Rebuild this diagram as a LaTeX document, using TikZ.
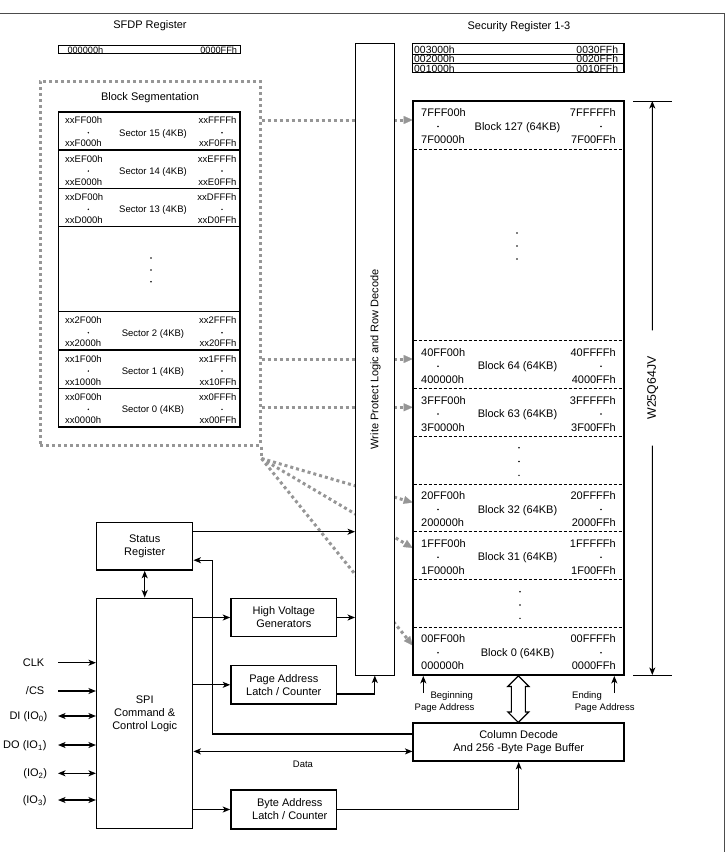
\documentclass[tikz,border=0pt]{standalone}
\usepackage{fontspec}
\setmainfont{Liberation Sans}
\usetikzlibrary{arrows.meta,positioning,calc}

\definecolor{segGray}{RGB}{150,150,150}

\tikzset{
  blk/.style={draw,line width=1.5pt,fill=white,align=center,inner sep=0pt,
    font=\fontsize{11}{13}\selectfont},
  tbl/.style={draw,line width=1.8pt,inner sep=0pt},
  txt/.style={inner sep=0pt,text height=0.72em,text depth=0pt,
    font=\fontsize{11}{13}\selectfont},
  sml/.style={txt,font=\fontsize{9.5}{11}\selectfont},
  adr/.style={txt,font=\fontsize{9.5}{11}\selectfont},
  adrs/.style={txt,font=\fontsize{10.4}{11}\selectfont},
  con/.style={line width=1.1pt,->},
  dcon/.style={line width=1.1pt,<->},
  divl/.style={line width=0.8pt,dash pattern=on 3pt off 2pt},
  seg/.style={draw=segGray,line width=3pt,dash pattern=on 3pt off 3pt},
  segarr/.style={seg,-{Triangle[length=9pt,width=8pt,line width=0.1pt]}},
  frm/.style={draw=black!70,line width=1pt}
}

\begin{document}
\begin{tikzpicture}[x=1pt,y=-1pt,>={Stealth[length=7.5pt,width=6pt,inset=2pt]}]
  \useasboundingbox (0,0) rectangle (728,852);
  \draw[frm] (0,13) -- (724,13) -- (724,852);

  % SFDP and security registers
  \node[txt] (sfdpT) at (150,25.3) {SFDP Register};
  \node[txt] (secT) at (519,25.5) {Security Register 1-3};
  \node[adr,font=\fontsize{9.2}{10}\selectfont,anchor=base west] (sfdpL) at (67.3,53.4) {000000h};
  \node[adr,font=\fontsize{9.2}{10}\selectfont,anchor=base east] (sfdpR) at (237.3,53.4) {0000FFh};
  \node[tbl,line width=1.3pt,minimum width=182.4pt,minimum height=7.6pt] (sfdp) at (149.5,49.5) {};
  \foreach \r/\a/\b in {54/003000h/0030FFh,63.3/002000h/0020FFh,72.7/001000h/0010FFh} {
    \node[adrs,anchor=base west] (secL\a) at (414,\r-0.6) {\a};
    \node[adrs,anchor=base east] (secR\b) at (618.3,\r-0.6) {\b};
  }
  \foreach \y in {54,63.3} \draw[line width=0.8pt] (412.7,\y) -- (624,\y);
  \node[tbl,line width=1.5pt,minimum width=211.3pt,minimum height=29.4pt] (sec) at (518.35,58) {};

  % block segmentation
  \node[seg,minimum width=220pt,minimum height=364pt] (segbox) at (150,263) {};
  \node[txt] (segT) at (150,97.3) {Block Segmentation};
  \node[tbl,line width=1.6pt,minimum width=181.7pt,minimum height=315pt] (sect) at (149.2,269.2) {};
  \foreach \y in {150,188.3,226.6,311.7,350,388.3} \draw[line width=1.4pt] (58.3,\y) -- (240,\y);
  \foreach \t/\n/\a/\b/\c/\d in {111.7/15/xxFF00h/xxFFFFh/xxF000h/xxF0FFh,
      150/14/xxEF00h/xxEFFFh/xxE000h/xxE0FFh, 188.3/13/xxDF00h/xxDFFFh/xxD000h/xxD0FFh,
      311.7/2/xx2F00h/xx2FFFh/xx2000h/xx20FFh, 350/1/xx1F00h/xx1FFFh/xx1000h/xx10FFh,
      388.3/0/xx0F00h/xx0FFFh/xx0000h/xx00FFh} {
    \node[adr,anchor=west] (sa\n) at (65,\t+8.5) {\a};
    \node[adr,anchor=east] (sb\n) at (236.7,\t+8.5) {\b};
    \node[adr] (sn\n) at (153,\t+21) {Sector \n\ (4KB)};
    \node[adr,anchor=west] (sc\n) at (65,\t+31.5) {\c};
    \node[adr,anchor=east] (sd\n) at (236.7,\t+31.5) {\d};
    \fill (88.3,\t+21) circle (0.8pt) (222,\t+21) circle (0.8pt);
  }
  \foreach \y in {258,270,281.7} \fill (151,\y) circle (0.8pt);

  % dotted pointers into the array
  \coordinate (fan) at ([yshift=-12pt]segbox.south east);
  \draw[seg] (segbox.south east) -- (fan);
  \foreach \y [count=\i] in {120,359,407.3} {
    \coordinate (h\i) at (412.7,\y);
    \draw[segarr] (h\i -| segbox.east) -- (h\i);
  }
  \foreach \y [count=\i] in {502.5,548,645.5} {
    \coordinate (d\i) at (412.7,\y);
    \draw[segarr] (fan) -- (d\i);
  }

  % write protect logic
  \node[blk,line width=1pt,minimum width=38.5pt,minimum height=631.7pt] (wp) at (374.8,359.2) {};
  \node[txt,rotate=90] (wpT) at (wp.center) {Write Protect Logic and Row Decode};

  % memory array
  \node[tbl,fill=white,minimum width=211.3pt,minimum height=574pt] (arr) at (518.35,388) {};
  \foreach \y in {149.75,340.75,388.5,436.25,484,531.75,579.5,627.25}
    \draw[divl] (413.6,\y) -- (623.1,\y);
  \foreach \t/\n/\a/\b/\c/\d in {101/127/7FFF00h/7FFFFFh/7F0000h/7F00FFh,
      340.75/64/40FF00h/40FFFFh/400000h/4000FFh, 388.5/63/3FFF00h/3FFFFFh/3F0000h/3F00FFh,
      484/32/20FF00h/20FFFFh/200000h/2000FFh, 531.75/31/1FFF00h/1FFFFFh/1F0000h/1F00FFh,
      627.25/0/00FF00h/00FFFFh/000000h/0000FFh} {
    \node[txt,anchor=west] (ba\n) at (421,\t+12) {\a};
    \node[txt,anchor=east] (bb\n) at (616,\t+12) {\b};
    \node[txt] (bn\n) at (517.5,\t+25.5) {Block \n\ (64KB)};
    \node[txt,anchor=west] (bc\n) at (421,\t+39) {\c};
    \node[txt,anchor=east] (bd\n) at (616,\t+39) {\d};
    \fill (438,\t+25.5) circle (0.8pt) (601,\t+25.5) circle (0.8pt);
  }
  \foreach \x/\y in {517/233,517/246,517/259,519/447.7,519/461.5,519/475.3,
      520/591.7,520/605,520/618.3} \fill (\x,\y) circle (0.8pt);

  % device size
  \coordinate (dimT) at (652.3,101); \coordinate (dimB) at (652.3,675);
  \draw[line width=1pt] ([xshift=-19.3pt]dimT) -- ([xshift=19.7pt]dimT);
  \draw[line width=1pt] ([xshift=-19.3pt]dimB) -- ([xshift=19.7pt]dimB);
  \node[txt,font=\fontsize{12.3}{14}\selectfont,rotate=90,inner xsep=26pt] (dim)
    at ($(dimT)!0.5!(dimB)$) {W25Q64JV};
  \draw[con] (dim.east) -- (dimT);
  \draw[con] (dim.west) -- (dimB);

  % control blocks
  \node[blk,minimum width=96pt,minimum height=47.7pt] (sr) at (144.7,546.2) {Status\\Register};
  \node[blk,minimum width=96pt,minimum height=230pt] (spi) at (144.7,713.3)
    {SPI\\Command \&\\Control Logic};
  \node[blk,minimum width=105.7pt,minimum height=38.4pt] (hvg) at (283.8,617.5)
    {High Voltage\\Generators};
  \node[blk,minimum width=105.7pt,minimum height=38.4pt] (pal) at (283.8,684.8)
    {Page Address\\Latch / Counter};
  \node[blk,minimum width=105.7pt,minimum height=38.6pt] (bal) at (283.8,809.5)
    {\hspace*{12pt}Byte Address\\\hspace*{12pt}Latch / Counter};
  \node[blk,line width=1.8pt,minimum width=210.7pt,minimum height=37.7pt] (cd) at (518.7,742.2)
    {Column Decode\\And 256 -Byte Page Buffer};

  % pins
  \foreach \y/\lx/\lab/\st [count=\i] in {662.7/44.5/CLK/con, 691/44.5/{/CS}/con,
      716/47.5/{DI (IO\textsubscript{0})}/dcon, 745/46.7/{DO (IO\textsubscript{1})}/dcon,
      773.3/47.3/{(IO\textsubscript{2})}/dcon, 800/46.7/{(IO\textsubscript{3})}/dcon} {
    \coordinate (pin\i) at (58,\y);
    \node[txt,anchor=east] (pl\i) at (\lx,\y) {\lab};
    \draw[\st] (pin\i) -- (pin\i -| spi.west);
  }

  % connections
  \draw[dcon] (sr.south) -- (spi.north);
  \draw[con] ([yshift=14.5pt]sr.east) -- ([yshift=14.5pt]sr.east -| wp.west);
  \draw[con] (spi.east |- hvg.west) -- (hvg.west);
  \draw[con] (hvg.east) -- (hvg.east -| wp.west);
  \draw[con] (spi.east |- pal.west) -- (pal.west);
  \draw[con] ([yshift=-9.2pt]pal.east) -| (wp.south);
  \draw[con] (spi.east |- bal.west) -- (bal.west);
  \draw[con] (bal.east) -| (cd.south);
  \coordinate (srin) at ([yshift=-14pt]sr.east);
  \draw[con] ([yshift=8.2pt]cd.west) -| ([xshift=19.3pt]srin) -- (srin);
  \draw[dcon] ([yshift=-9.2pt]cd.west -| spi.east) -- ([yshift=-9.2pt]cd.west)
    node[midway,sml,below=8pt] (dataT) {Data};

  % page address markers
  \coordinate (bgn) at (423.3,693); \draw[con] (bgn) -- (bgn |- arr.south);
  \coordinate (edn) at (614.3,693); \draw[con] (edn) -- (edn |- arr.south);
  \node[sml] (bgnA) at (451.7,695) {Beginning};
  \node[sml] (bgnB) at (444.5,706.7) {Page Address};
  \node[sml] (ednA) at (587,695) {Ending};
  \node[sml] (ednB) at (604.7,707) {Page Address};

  % wide data path
  \coordinate (ha) at (arr.south); \coordinate (hb) at (ha |- cd.north);
  \draw[line width=1.2pt,fill=white] (ha) -- ($(ha)+(10.5,10.5)$) -- ($(ha)+(7,10.5)$)
    -- ($(hb)+(7,-10.5)$) -- ($(hb)+(10.5,-10.5)$) -- (hb) -- ($(hb)+(-10.5,-10.5)$)
    -- ($(hb)+(-7,-10.5)$) -- ($(ha)+(-7,10.5)$) -- ($(ha)+(-10.5,10.5)$) -- cycle;
\end{tikzpicture}
\end{document}
